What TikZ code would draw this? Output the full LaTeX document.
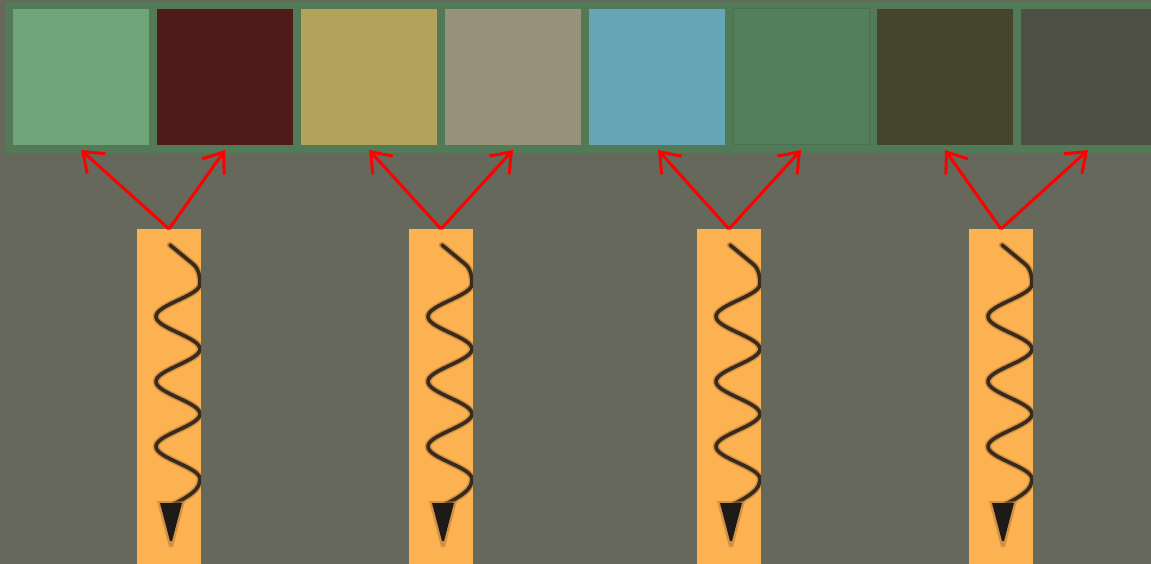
\documentclass[tikz,border=0pt]{standalone}
\usetikzlibrary{arrows.meta}
\definecolor{bg}{HTML}{66685C}
\definecolor{stripc}{HTML}{527A57}
\definecolor{ca}{HTML}{71A479}
\definecolor{cb}{HTML}{4E1A1A}
\definecolor{cc}{HTML}{B2A25A}
\definecolor{cd}{HTML}{98927A}
\definecolor{ce}{HTML}{64A6B8}
\definecolor{cf}{HTML}{52805A}
\definecolor{cg}{HTML}{45462D}
\definecolor{ch}{HTML}{4C4F42}
\definecolor{orangebar}{HTML}{FDB251}
\definecolor{wavedark}{HTML}{3A2A1C}
\definecolor{waveedge}{HTML}{A8743A}
\definecolor{headc}{HTML}{1E1A1A}
\begin{document}
\begin{tikzpicture}[x=1pt,y=-1pt,
  sq/.style={draw=none,inner sep=0pt,outer sep=0pt,minimum width=136pt,minimum height=136pt,anchor=north west},
  obar/.style={fill=orangebar,inner sep=0pt,outer sep=0pt,minimum width=64pt,minimum height=345pt,anchor=north},
  ptr/.style={draw=red,line width=3pt,-{Straight Barb[length=18pt,width=27pt]}},
  waveunder/.style={draw=waveedge,line width=6.5pt,opacity=0.55},
  waveline/.style={draw=wavedark,line width=3.6pt}
]
\useasboundingbox (0,0) rectangle (1151,564);
\clip (0,0) rectangle (1151,564);
\fill[bg] (0,0) rectangle (1151,564);
\node[fill=stripc,rounded corners=3pt,inner sep=0pt,outer sep=0pt,minimum width=1170pt,minimum height=151pt,anchor=north west] (strip) at (5,2) {};
\foreach \i/\col in {0/ca,1/cb,2/cc,3/cd,4/ce,5/cf,6/cg,7/ch} {
  \node[sq,fill=\col] (s\i) at ({13+144*\i},9) {};
}
\draw[stripc!92!black,line width=1pt] (s5.north west) rectangle (s5.south east);
\foreach \n/\c/\l/\r in {1/169/81/225, 2/441/369/513, 3/729/658/801, 4/1001/945/1088} {
  \node[obar] (b\n) at (\c,229) {};
  \coordinate (tl\n) at (\l,150);
  \coordinate (tr\n) at (\r,150);
  \begin{scope}
    \clip (b\n.north west) rectangle (b\n.south east);
    \foreach \sty in {waveunder,waveline} {
      \draw[\sty,line cap=round,line join=round] ({\c+1},245) -- ({\c+24},264)
        .. controls ({\c+30},269) and ({\c+31},276) .. ({\c+31},284)
        -- plot[domain=284:479,samples=90,variable=\t] ({\c+9+22*cos((\t-284)/65*360)},\t)
        .. controls ({\c+31},490) and ({\c+20},496) .. ({\c+5},504);
    }
    \fill[waveedge,opacity=0.5] ({\c-12},501) -- ({\c+16},501) -- ({\c+4},547) -- ({\c},547) -- cycle;
    \fill[headc] ({\c-9},503) -- ({\c+13},503) -- ({\c+3},541) -- ({\c+1},541) -- cycle;
  \end{scope}
  \draw[ptr] (b\n.north) -- (tl\n);
  \draw[ptr] (b\n.north) -- (tr\n);
}
\end{tikzpicture}
\end{document}
